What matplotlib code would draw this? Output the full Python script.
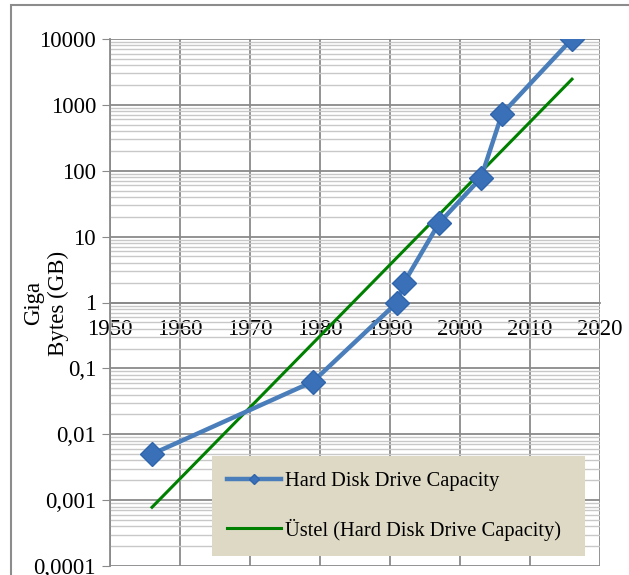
import numpy as np
import matplotlib
matplotlib.use("Agg")
import matplotlib.pyplot as plt
from matplotlib.ticker import FixedLocator, LogLocator, NullFormatter
from matplotlib.patches import Rectangle

# Hard disk capacity (GB) by year
years = [1956, 1979, 1991, 1992, 1997, 2003, 2006, 2016]
capacity = [0.005, 0.063, 1.0, 2.0, 16.0, 78.0, 730.0, 10000.0]

y_ticks = [0.0001, 0.001, 0.01, 0.1, 1, 10, 100, 1000, 10000]
y_labels = ["0,0001", "0,001", "0,01", "0,1", "1", "10", "100", "1000", "10000"]
x_ticks = [1950, 1960, 1970, 1980, 1990, 2000, 2010, 2020]

plt.rcParams['font.family'] = ['Liberation Serif', 'DejaVu Serif']

W, H = 629, 575
fig = plt.figure(figsize=(W / 100, H / 100), dpi=100)
ax = fig.add_axes([110 / W, (H - 566) / H, 490 / W, 527 / H])

# outer chart frame (cropped on right and bottom)
fig.patches.append(Rectangle((11 / W, -0.1), 1.2, (H - 5) / H + 0.1,
                             transform=fig.transFigure, fill=False,
                             edgecolor="#8c8c8c", lw=1.5))

# exponential trendline (fit on log of values)
b, a = np.polyfit(years, np.log(capacity), 1)
xt = np.array([years[0], years[-1]])
yt = np.exp(a + b * xt)

ax.plot(years, capacity, color="#4a7ebb", lw=3.2, marker="D", ms=12,
        mfc="#3a70b8", mec="#2f65ad", zorder=4, label="Hard Disk Drive Capacity")
ax.plot(xt, yt, color="#008000", lw=2.2, zorder=3,
        label="Üstel (Hard Disk Drive Capacity)")

ax.set_yscale("log")
ax.set_xlim(1950, 2020)
ax.set_ylim(0.0001, 10000)
ax.yaxis.set_major_locator(FixedLocator(y_ticks))
ax.set_yticklabels(y_labels)
ax.yaxis.set_minor_locator(LogLocator(base=10, subs=np.arange(2, 10)))
ax.yaxis.set_minor_formatter(NullFormatter())
ax.set_xticks(x_ticks)
ax.set_xticklabels([str(v) for v in x_ticks])

ax.grid(True, which="major", color="#8a8a8a", lw=1.3)
ax.grid(True, which="minor", axis="y", color="#c8c8c8", lw=1.0)
ax.set_axisbelow(True)

for s in ["top", "right"]:
    ax.spines[s].set_visible(False)
ax.spines["left"].set_color("#8a8a8a")
ax.spines["left"].set_linewidth(1.3)
ax.spines["bottom"].set_position(("data", 1))
ax.spines["bottom"].set_color("#8a8a8a")
ax.spines["bottom"].set_linewidth(1.3)

ax.tick_params(axis="y", which="major", length=6, color="#8a8a8a", labelsize=16.5, pad=4)
ax.tick_params(axis="y", which="minor", length=0)
ax.tick_params(axis="x", length=0, labelsize=16.5, pad=12)

fig.text(46 / W, (H - 303) / H, "Giga\nBytes (GB)", rotation=90,
         ha="center", va="center", fontsize=16.5, linespacing=1.2)

leg = ax.legend(loc="lower left", bbox_to_anchor=((212 - 110) / 490, (566 - 556) / 527,
                                                  373 / 490, 99 / 527),
                mode="expand", frameon=True, fancybox=False, fontsize=14.8,
                handlelength=2.6, handletextpad=0.2, labelspacing=1.35,
                borderpad=0.75, borderaxespad=0, markerscale=0.4)
leg.get_frame().set_facecolor("#ddd9c4")
leg.get_frame().set_edgecolor("none")
leg.get_frame().set_alpha(1)

fig.savefig("out.png", dpi=100)
